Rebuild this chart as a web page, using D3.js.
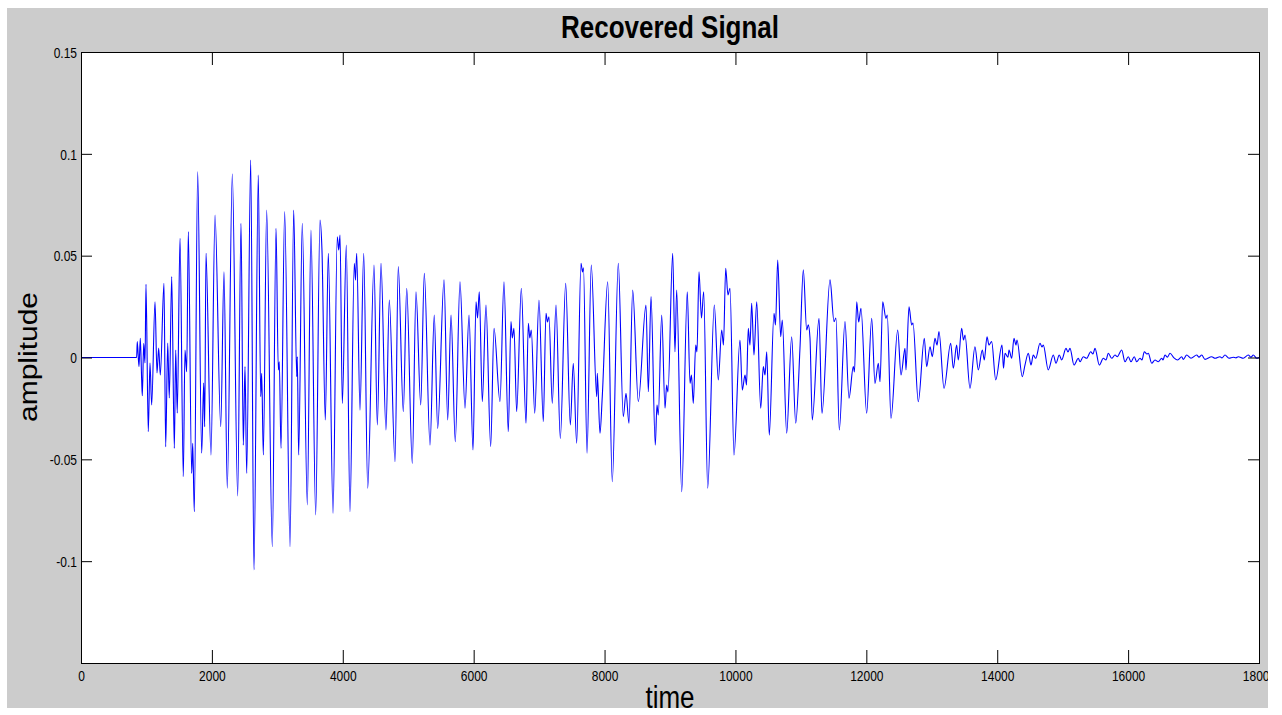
<!DOCTYPE html>
<html>
<head>
<meta charset="utf-8">
<script src="https://cdn.jsdelivr.net/npm/d3@7"></script>
<style>
  body { margin: 0; background: #fff; }
  svg text { font-family: "Liberation Sans", Arial, sans-serif; }
</style>
</head>
<body>
<script>
const title = "Recovered Signal";
const xLabel = "time";
const yLabel = "amplitude";

const xTicks = [0, 2000, 4000, 6000, 8000, 10000, 12000, 14000, 16000, 18000];
const yTicks = [-0.1, -0.05, 0, 0.05, 0.1, 0.15];
const yTickLabels = ["-0.1", "-0.05", "0", "0.05", "0.1", "0.15"];

// turning points of the trace
const sampleTime = [
  0, 850, 860, 886, 906, 927, 937, 958, 978, 993, 1028, 1054, 1080, 1131, 1161, 1187, 1212, 1268, 1294, 1325,
  1349, 1386, 1426, 1447, 1471, 1513, 1563, 1589, 1615, 1640, 1691, 1707, 1731, 1783, 1844, 1875, 1890, 1910, 1986, 2048,
  2135, 2185, 2235, 2312, 2394, 2445, 2480, 2506, 2532, 2593, 2643, 2709, 2746, 2761, 2786, 2837, 2923, 2980, 3015, 3030,
  3056, 3112, 3194, 3250, 3296, 3305, 3326, 3381, 3458, 3514, 3586, 3652, 3682, 3733, 3779, 3851, 3916, 3938, 3958, 3993,
  4054, 4110, 4176, 4194, 4213, 4263, 4320, 4381, 4477, 4528, 4584, 4660, 4711, 4798, 4848, 4925, 4977, 5062, 5119, 5191,
  5246, 5333, 5398, 5450, 5547, 5603, 5654, 5719, 5791, 5868, 5929, 5990, 6036, 6059, 6086, 6132, 6188, 6260, 6311, 6402,
  6463, 6529, 6570, 6590, 6616, 6657, 6728, 6800, 6835, 6858, 6881, 6933, 6998, 7064, 7105, 7128, 7151, 7201, 7258, 7324,
  7406, 7477, 7522, 7574, 7640, 7663, 7678, 7732, 7797, 7880, 7889, 7930, 7965, 8048, 8118, 8210, 8286, 8328, 8373, 8430,
  8516, 8633, 8669, 8710, 8775, 8801, 8821, 8873, 8924, 8949, 8969, 9041, 9076, 9102, 9179, 9264, 9306, 9328, 9356, 9393,
  9412, 9443, 9481, 9515, 9576, 9677, 9738, 9790, 9817, 9851, 9886, 9917, 9978, 10069, 10105, 10146, 10169, 10196, 10222, 10248,
  10283, 10325, 10386, 10426, 10452, 10478, 10517, 10589, 10612, 10646, 10691, 10716, 10783, 10859, 10921, 10986, 11037, 11089, 11113, 11139,
  11174, 11277, 11322, 11445, 11506, 11536, 11587, 11674, 11735, 11801, 11819, 11853, 11883, 11918, 12005, 12082, 12132, 12183, 12209, 12250,
  12300, 12320, 12377, 12479, 12530, 12591, 12606, 12652, 12693, 12713, 12794, 12886, 12922, 12973, 13008, 13049, 13080, 13110, 13187, 13289,
  13329, 13380, 13405, 13457, 13484, 13508, 13584, 13660, 13711, 13772, 13802, 13844, 13874, 13915, 13977, 14073, 14096, 14119, 14165, 14180,
  14221, 14256, 14287, 14302, 14383, 14424, 14475, 14516, 14551, 14588, 14654, 14684, 14704, 14780, 14857, 14898, 14948, 14985, 15051, 15081,
  15112, 15173, 15239, 15265, 15315, 15367, 15428, 15463, 15494, 15560, 15621, 15662, 15697, 15749, 15800, 15835, 15902, 15952, 16003, 16044,
  16094, 16131, 16182, 16212, 16247, 16288, 16308, 16360, 16411, 16461, 16513, 16533, 16563, 16602, 16640, 16701, 16758, 16819, 16843, 16895,
  16961, 17048, 17083, 17124, 17175, 17277, 17328, 17404, 17434, 17480, 17541, 17607, 17648, 17684, 17760, 17836, 17878, 17913, 17965, 18000
];

const amplitude = [
  0, 0, 0.0078, -0.0045, 0.0094, -0.011, -0.0188, 0.007, -0.0027, 0.036, -0.0364, -0.0027, -0.0233, 0.0274, -0.0076, 0.0047, -0.0086, 0.0364, -0.0438, 0.0071,
  -0.0199, 0.0397, -0.0446, 0.0037, -0.0273, 0.0585, -0.0585, 0.0037, -0.007, 0.0618, -0.0569, -0.0421, -0.0757, 0.0912, -0.047, -0.0125, -0.034, 0.0512, -0.0479, 0.07,
  -0.034, 0.0421, -0.0642, 0.0901, -0.068, 0.0659, -0.043, -0.0045, -0.0569, 0.097, -0.1043, 0.0896, -0.0192, -0.0078, -0.0479, 0.0724, -0.0929, 0.0634, -0.0061, -0.0021,
  -0.0446, 0.0716, -0.0929, 0.0724, -0.0094, 0.0004, -0.0479, 0.0659, -0.0724, 0.0626, -0.0773, 0.0675, 0.0528, -0.0307, 0.0512, -0.0765, 0.0593, 0.0528, 0.0601, -0.0225,
  0.0552, -0.0757, 0.0462, 0.038, 0.0512, -0.0258, 0.0512, -0.0642, 0.0454, -0.0331, 0.0462, -0.0356, 0.0282, -0.0512, 0.0446, -0.0266, 0.034, -0.052, 0.0323, -0.0233,
  0.0413, -0.043, 0.0209, -0.0348, 0.0381, -0.0307, 0.0209, -0.0413, 0.0372, -0.0249, 0.0209, -0.0454, 0.0274, 0.0194, 0.0323, -0.0217, 0.0258, -0.0438, 0.0143, -0.0217,
  0.0372, -0.0364, 0.0176, 0.0096, 0.0143, -0.0266, 0.034, -0.0323, 0.0168, 0.0096, 0.0135, -0.0274, 0.0282, -0.0315, 0.0217, 0.0174, 0.02, -0.0225, 0.0258, -0.0397,
  0.0364, -0.0331, -0.0028, -0.0421, 0.0462, 0.042, 0.044, -0.047, 0.0454, -0.0192, -0.0078, -0.0372, -0.0192, 0.0372, -0.061, 0.0462, -0.0291, -0.0176, -0.0323, 0.0331,
  -0.0217, 0.0258, -0.0168, 0.0299, -0.043, -0.0233, -0.0282, 0.0209, -0.0249, -0.0135, -0.0169, 0.0512, 0.0028, 0.0331, -0.0659, 0.0323, -0.0127, -0.0086, -0.0225, 0.0061,
  0.0027, 0.0421, 0.0194, 0.0323, -0.0642, 0.0258, -0.011, 0.0135, 0.0061, 0.0438, 0.0307, 0.034, -0.0479, 0.0086, -0.016, -0.0086, -0.0135, 0.0143, 0.0061, 0.0266,
  0.0012, 0.0274, -0.0249, -0.0045, -0.0086, 0.0028, -0.0381, 0.0217, 0.016, 0.0479, 0.0102, 0.0184, -0.0372, 0.0102, -0.0323, 0.0045, 0.043, 0.0135, 0.016, 0.0096,
  -0.0307, 0.0192, -0.0274, 0.0381, 0.0176, 0.0194, -0.0356, 0.0176, -0.02, -0.0045, -0.0071, 0.0274, 0.0174, 0.0242, -0.0274, 0.0192, -0.0127, -0.0028, -0.0119, 0.0274,
  0.0192, 0.0209, -0.0299, 0.0135, -0.0086, 0.0045, -0.0061, 0.0249, 0.016, 0.0169, -0.0217, 0.0094, -0.0045, 0.0053, 0.0004, 0.0094, 0.0061, 0.0127, -0.0151, 0.007,
  -0.0053, 0.0061, -0.0012, 0.0143, 0.0086, 0.011, -0.0151, 0.0053, -0.0061, 0.0037, -0.0012, 0.0102, 0.0061, 0.0078, -0.011, 0.0061, -0.0053, 0.0021, 0.0002, 0.0037,
  -0.0004, 0.0094, 0.0061, 0.0086, -0.0094, -0.0037, 0.0021, -0.0037, 0.0012, -0.0004, 0.007, 0.0052, 0.0061, -0.0061, 0.0012, -0.0028, 0.0012, -0.0012, 0.0045, 0.0027,
  0.0045, -0.0037, -0.0004, -0.0021, 0.0004, -0.0004, 0.0028, 0.0017, 0.0045, -0.0037, -0.0004, -0.0012, 0.0021, -0.0004, 0.0012, 0.0004, 0.0037, -0.0021, 0.0004, -0.0021,
  0.0004, -0.0021, -0.0004, -0.0012, 0.0028, 0.0017, 0.0021, -0.0028, -0.0012, -0.0021, -0.0004, -0.0012, 0.0012, 0.0002, 0.0021, -0.0002, -0.0012, 0.0004, -0.0009, 0.0012,
  -0.0004, 0.0012, 0.0002, 0.0012, -0.0009, 0.0004, -0.0004, 0.0004, -0.0002, 0.0012, -0.0004, 0.0001, -0.0002, 0.0004, -0.0004, 0.0012, 0.0002, 0.0012, -0.0004, 0
];

const width = 1282, height = 715;
const plot = { left: 81, top: 52, right: 1259, bottom: 663 };
const stretch = 1.2; // text in the picture is a bit taller than it is wide

const svg = d3.select("body").append("svg")
  .attr("width", width)
  .attr("height", height);

svg.append("defs").append("clipPath").attr("id", "figclip")
  .append("rect").attr("x", 7).attr("y", 8).attr("width", 1261).attr("height", 700);

const fig = svg.append("g").attr("clip-path", "url(#figclip)");

// grey figure background
fig.append("rect")
  .attr("x", 7).attr("y", 8).attr("width", 1261).attr("height", 700)
  .attr("fill", "#cccccc");

// white axes area
fig.append("rect")
  .attr("x", plot.left).attr("y", plot.top)
  .attr("width", plot.right - plot.left).attr("height", plot.bottom - plot.top)
  .attr("fill", "#fff");

const x = d3.scaleLinear().domain([0, 18000]).range([plot.left, plot.right]);
const y = d3.scaleLinear().domain([-0.15, 0.15]).range([plot.bottom, plot.top]);

// signal
const line = d3.line()
  .x(i => x(sampleTime[i]))
  .y(i => y(amplitude[i]))
  .curve(d3.curveMonotoneX);

fig.append("path")
  .datum(d3.range(sampleTime.length))
  .attr("fill", "none")
  .attr("stroke", "#0000ff")
  .attr("stroke-width", 1.1)
  .attr("d", line);

// axes with inward ticks
const bottomAxis = fig.append("g")
  .attr("transform", `translate(0,${plot.bottom})`)
  .call(d3.axisBottom(x).tickValues(xTicks).tickSize(-13).tickSizeOuter(0).tickPadding(6.3)
    .tickFormat(d3.format("d")));

const topAxis = fig.append("g")
  .attr("transform", `translate(0,${plot.top})`)
  .call(d3.axisTop(x).tickValues(xTicks).tickSize(-13).tickSizeOuter(0).tickFormat(""));

const leftAxis = fig.append("g")
  .attr("transform", `translate(${plot.left},0)`)
  .call(d3.axisLeft(y).tickValues(yTicks).tickSize(-11).tickSizeOuter(0).tickPadding(4)
    .tickFormat((d, i) => yTickLabels[i]));

const rightAxis = fig.append("g")
  .attr("transform", `translate(${plot.right},0)`)
  .call(d3.axisRight(y).tickValues(yTicks).tickSize(-11).tickSizeOuter(0).tickFormat(""));

[bottomAxis, topAxis, leftAxis, rightAxis].forEach(g => {
  g.select(".domain").remove();
  g.selectAll("line").attr("stroke", "#000");
});

bottomAxis.selectAll("text")
  .attr("font-size", 12).attr("fill", "#000")
  .attr("transform", `scale(1,${stretch})`);

leftAxis.selectAll("text")
  .attr("font-size", 12).attr("fill", "#000")
  .attr("dy", "0.36em")
  .attr("transform", `scale(1,${stretch})`);

// axes box
fig.append("rect")
  .attr("x", plot.left + 0.5).attr("y", plot.top + 0.5)
  .attr("width", plot.right - plot.left).attr("height", plot.bottom - plot.top)
  .attr("fill", "none").attr("stroke", "#000").attr("stroke-width", 1);

// title and labels
fig.append("text")
  .attr("transform", `translate(${(plot.left + plot.right) / 2},38) scale(1,${stretch})`)
  .attr("text-anchor", "middle")
  .attr("font-size", 26).attr("font-weight", "bold")
  .text(title);

fig.append("text")
  .attr("transform", `translate(${(plot.left + plot.right) / 2},708) scale(1,${stretch})`)
  .attr("text-anchor", "middle")
  .attr("font-size", 26)
  .text(xLabel);

fig.append("text")
  .attr("transform", `translate(37,357) scale(1,${stretch}) rotate(-90)`)
  .attr("text-anchor", "middle")
  .attr("font-size", 25)
  .text(yLabel);
</script>
</body>
</html>
